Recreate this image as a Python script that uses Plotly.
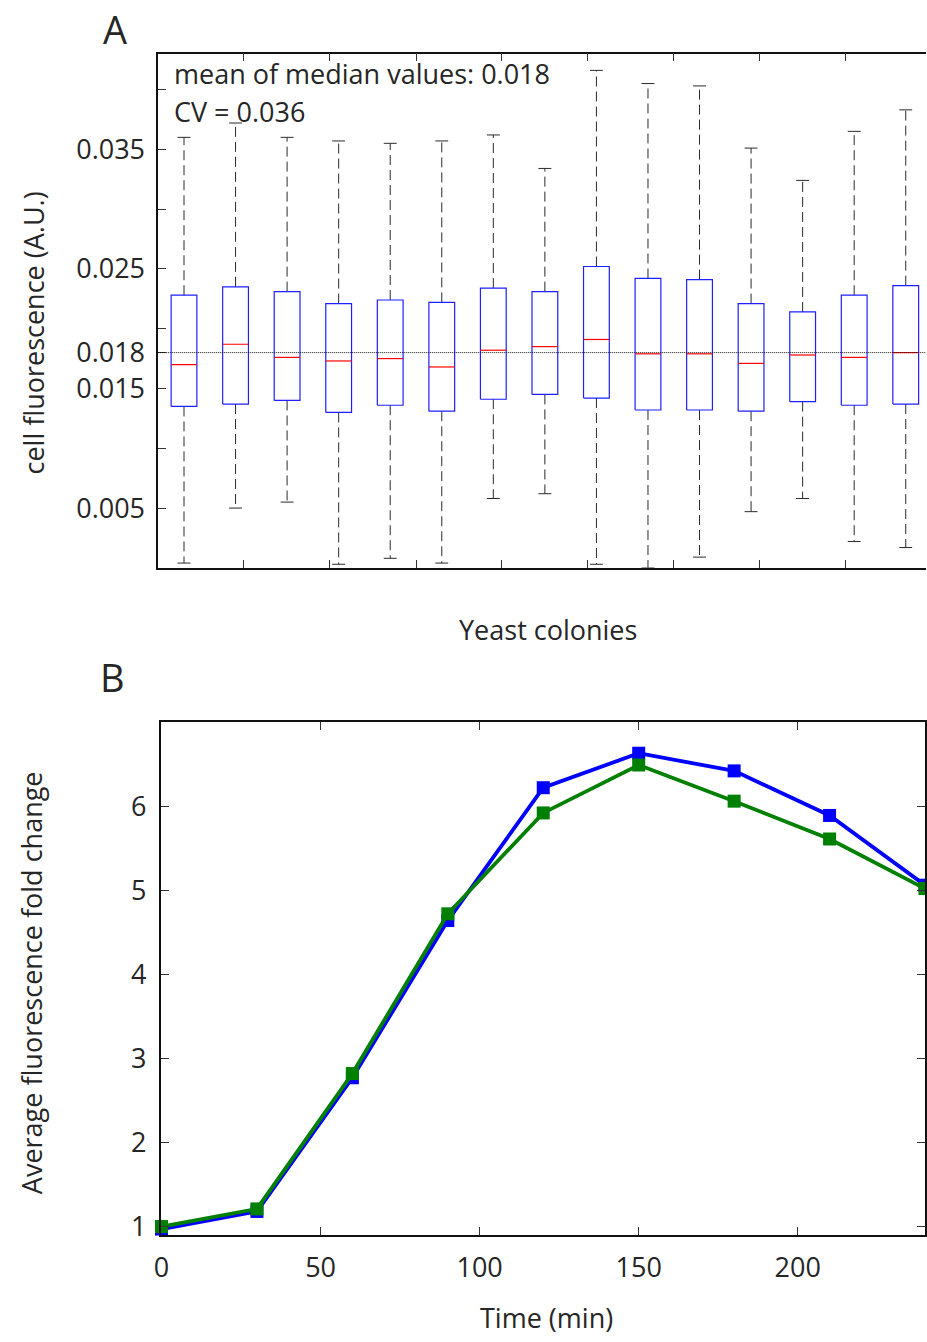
import plotly.graph_objects as go

# ---------------- Panel A data (box plot statistics per yeast colony) ----------------
colonies = list(range(1, 16))
upper_whisker = [0.0360, 0.0372, 0.0360, 0.0357, 0.0355, 0.0357, 0.0362, 0.0334,
                 0.0416, 0.0405, 0.0403, 0.0351, 0.0324, 0.0365, 0.0383]
q3 = [0.0228, 0.0235, 0.0231, 0.0221, 0.0224, 0.0222, 0.0234, 0.0231,
      0.0252, 0.0242, 0.0241, 0.0221, 0.0214, 0.0228, 0.0236]
medians = [0.0170, 0.0187, 0.0176, 0.0173, 0.0175, 0.0168, 0.0182, 0.0185,
           0.0191, 0.0179, 0.0179, 0.0171, 0.0178, 0.0176, 0.0180]
q1 = [0.0135, 0.0137, 0.0140, 0.0130, 0.0136, 0.0131, 0.0141, 0.0145,
      0.0142, 0.0132, 0.0132, 0.0131, 0.0139, 0.0136, 0.0137]
lower_whisker = [0.0004, 0.0050, 0.0055, 0.0003, 0.0008, 0.0004, 0.0058, 0.0062,
                 0.0003, 0.0000, 0.0009, 0.0047, 0.0058, 0.0022, 0.0017]
mean_of_medians = 0.018
cv_value = 0.036

a_ytick_vals = [0.005, 0.010, 0.015, 0.018, 0.020, 0.025, 0.030, 0.035, 0.040]
a_ytick_text = ["0.005", "", "0.015", "0.018", "", "0.025", "", "0.035", ""]
a_xtick_vals = [2.163, 3.829, 5.506, 7.158, 8.829, 10.5, 12.165, 13.83]

# ---------------- Panel B data ----------------
time_min = [0, 30, 60, 90, 120, 150, 180, 210, 240]
fold_blue = [0.97, 1.18, 2.77, 4.64, 6.22, 6.63, 6.42, 5.89, 5.06]
fold_green = [1.00, 1.21, 2.82, 4.72, 5.92, 6.49, 6.06, 5.61, 5.02]
b_xtick_vals = [0, 50, 100, 150, 200]
b_ytick_vals = [1, 2, 3, 4, 5, 6]

FONT = "Open Sans"
TXT = "#262626"
W, H = 927, 1342

half_box = 0.25
half_cap = 0.125

box_x, box_y = [], []
med_x, med_y = [], []
wh_x, wh_y = [], []
cap_x, cap_y = [], []
for c, lo, a, m, b, hi in zip(colonies, lower_whisker, q1, medians, q3, upper_whisker):
    box_x += [c - half_box, c + half_box, c + half_box, c - half_box, c - half_box, None]
    box_y += [a, a, b, b, a, None]
    med_x += [c - half_box, c + half_box, None]
    med_y += [m, m, None]
    wh_x += [c, c, None, c, c, None]
    wh_y += [b, hi, None, a, lo, None]
    cap_x += [c - half_cap, c + half_cap, None, c - half_cap, c + half_cap, None]
    cap_y += [hi, hi, None, lo, lo, None]

fig = go.Figure()

fig.add_trace(go.Scatter(x=wh_x, y=wh_y, mode="lines", xaxis="x", yaxis="y",
                         line=dict(color="#2a2a2a", width=1, dash="10px,5px"),
                         hoverinfo="skip", showlegend=False))
fig.add_trace(go.Scatter(x=cap_x, y=cap_y, mode="lines", xaxis="x", yaxis="y",
                         line=dict(color="#2a2a2a", width=1),
                         hoverinfo="skip", showlegend=False))
fig.add_trace(go.Scatter(x=box_x, y=box_y, mode="lines", xaxis="x", yaxis="y",
                         line=dict(color="#1f1fff", width=1.2),
                         hoverinfo="skip", showlegend=False))
fig.add_trace(go.Scatter(x=med_x, y=med_y, mode="lines", xaxis="x", yaxis="y",
                         line=dict(color="#ff0000", width=1.2),
                         hoverinfo="skip", showlegend=False))

fig.add_trace(go.Scatter(x=time_min, y=fold_blue, mode="lines+markers", xaxis="x2", yaxis="y2",
                         line=dict(color="#0000ff", width=3.8),
                         marker=dict(symbol="square", size=13, color="#0000ff"),
                         cliponaxis=False, showlegend=False))
fig.add_trace(go.Scatter(x=time_min, y=fold_green, mode="lines+markers", xaxis="x2", yaxis="y2",
                         line=dict(color="#008000", width=3.8),
                         marker=dict(symbol="square", size=13, color="#008000"),
                         cliponaxis=False, showlegend=False))

# domains from pixel layout
ax_a_left, ax_a_top, ax_a_bottom = 151.7, 54.0, 571.7
ax_b_left, ax_b_right, ax_b_top, ax_b_bottom = 155.0, 926.0, 727.0, 1243.3

axis_common = dict(showline=True, linecolor="#111111", linewidth=1.5, mirror="ticks",
                   ticks="inside", ticklen=8, tickwidth=1, tickcolor="#333333",
                   showgrid=False, zeroline=False,
                   tickfont=dict(family=FONT, size=27, color=TXT))
axis_a_y = dict(axis_common, mirror=False)

fig.update_layout(
    width=W, height=H,
    margin=dict(l=0, r=0, t=0, b=0),
    paper_bgcolor="white", plot_bgcolor="white",
    xaxis=dict(domain=[ax_a_left / W, 1.0], range=[0.5, 15.393], anchor="y",
               tickvals=a_xtick_vals, ticktext=[""] * len(a_xtick_vals), **axis_common),
    yaxis=dict(domain=[1 - ax_a_bottom / H, 1 - ax_a_top / H], range=[0, 0.043], anchor="x",
               tickvals=a_ytick_vals, ticktext=a_ytick_text, ticklabelstandoff=6, **axis_a_y),
    xaxis2=dict(domain=[ax_b_left / W, ax_b_right / W], range=[0, 240], anchor="y2",
                tickvals=b_xtick_vals, ticklabelstandoff=8, **axis_common),
    yaxis2=dict(domain=[1 - ax_b_bottom / H, 1 - ax_b_top / H], range=[0.9, 7.0], anchor="x2",
                tickvals=b_ytick_vals, ticklabelstandoff=8, **axis_common),
    shapes=[dict(type="line", xref="x domain", yref="y", x0=0, x1=1,
                 y0=mean_of_medians, y1=mean_of_medians,
                 line=dict(color="#111111", width=1, dash="1px,1px"))],
)

def ann(text, x, y, size=27, angle=0, xanchor="center", yanchor="middle"):
    fig.add_annotation(text=text, xref="paper", yref="paper", x=x / W, y=1 - y / H,
                       xanchor=xanchor, yanchor=yanchor, showarrow=False, textangle=angle,
                       font=dict(family=FONT, size=size, color=TXT))

ann("A", 108, 1, size=38, yanchor="top")
ann("B", 106, 682, size=38)
ann(f"mean of median values: {mean_of_medians}", 166, 74, xanchor="left")
ann(f"CV = {cv_value}", 166, 112, xanchor="left")
ann("cell fluorescence (A.U.)", 26, 335, angle=-90)
ann("Yeast colonies", 545, 634)
ann("Average fluorescence fold change", 24, 989, angle=-90)
ann("Time (min)", 544, 1326)

fig.write_html(
    "out.html",
    config={"displayModeBar": False},
    post_script="document.body.style.margin='0';document.body.style.overflow='hidden';",
)
